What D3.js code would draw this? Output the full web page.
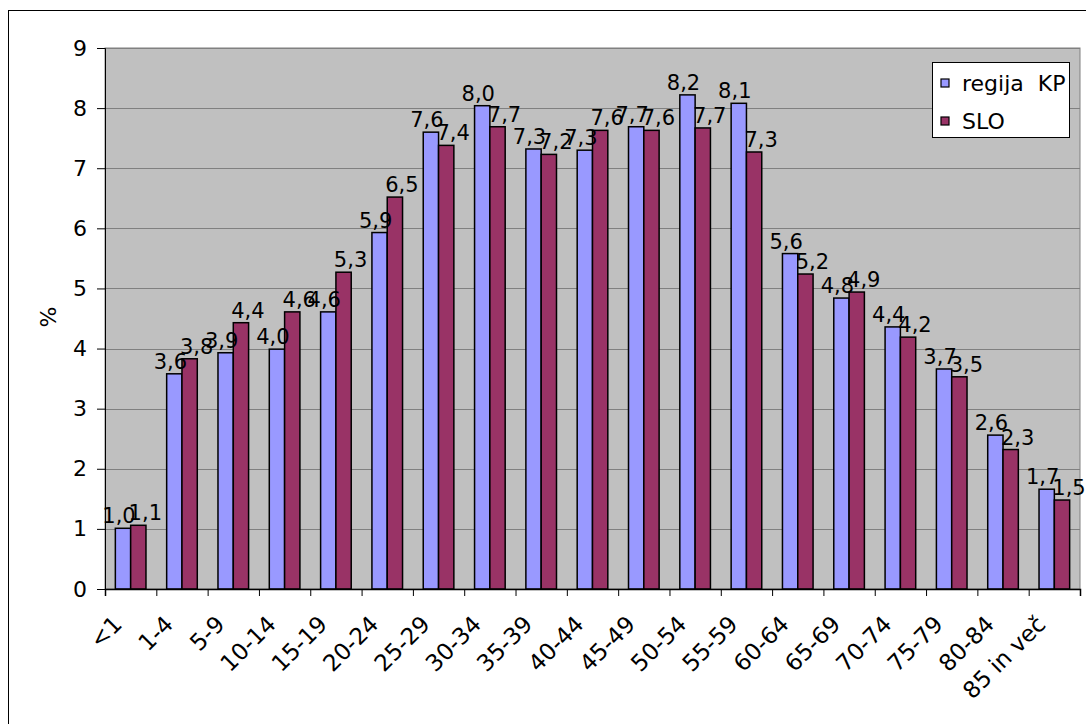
<!DOCTYPE html>
<html>
<head>
<meta charset="utf-8">
<script src="https://d3js.org/d3.v7.min.js"></script>
<style>
  body { margin: 0; background: #fff; }
  text { font-family: "DejaVu Sans", Verdana, sans-serif; font-size: 22px; fill: #000; }
  .xlab text { font-size: 23px; }
  .vlab { font-size: 21px; }
</style>
</head>
<body>
<svg id="chart" width="1086" height="724"></svg>
<script>
var categories = ["<1", "1-4", "5-9", "10-14", "15-19", "20-24", "25-29", "30-34", "35-39",
  "40-44", "45-49", "50-54", "55-59", "60-64", "65-69", "70-74", "75-79", "80-84", "85 in več"];
var seriesNames = ["regija KP", "SLO"];
var regijaKP = [1.01, 3.58, 3.93, 3.99, 4.61, 5.93, 7.60, 8.04, 7.32, 7.30, 7.69, 8.22, 8.08,
  5.58, 4.84, 4.36, 3.66, 2.56, 1.66];
var slo = [1.06, 3.83, 4.43, 4.61, 5.27, 6.52, 7.38, 7.69, 7.23, 7.63, 7.63, 7.67, 7.27,
  5.24, 4.94, 4.19, 3.53, 2.32, 1.48];
var yTicks = [0, 1, 2, 3, 4, 5, 6, 7, 8, 9];

var colors = { "regija KP": "#9999ff", "SLO": "#993366" };
var labelShift = { "regija KP": -4, "SLO": 7 };

var svg = d3.select("#chart");
var plotL = 105, plotR = 1080, plotT = 48, plotB = 589;

// chart border
svg.append("rect")
  .attr("x", 8.5).attr("y", 10.5)
  .attr("width", 1100).attr("height", 730)
  .attr("fill", "none").attr("stroke", "#000");

// plot area
svg.append("rect")
  .attr("x", plotL).attr("y", plotT)
  .attr("width", plotR - plotL).attr("height", plotB - plotT)
  .attr("fill", "#c0c0c0").attr("stroke", "#808080");

var x0 = d3.scaleBand().domain(categories).range([plotL, plotR]);
var x1 = d3.scaleBand().domain(seriesNames).range([0, x0.bandwidth()]).paddingOuter(0.676);
var y = d3.scaleLinear().domain([0, 9]).range([plotB, plotT]);
var xb = d3.scaleLinear().domain([0, categories.length]).range([plotL, plotR]);

// gridlines
svg.append("g").selectAll("line")
  .data(yTicks.filter(function(d) { return d > 0; }))
  .enter().append("line")
  .attr("x1", plotL).attr("x2", plotR)
  .attr("y1", function(d) { return Math.round(y(d)) + 0.5; })
  .attr("y2", function(d) { return Math.round(y(d)) + 0.5; })
  .attr("stroke", "#808080");

var rows = categories.map(function(c, i) {
  return { cat: c, values: [
    { name: "regija KP", value: regijaKP[i] },
    { name: "SLO", value: slo[i] }
  ] };
});

var groups = svg.append("g").selectAll("g")
  .data(rows).enter().append("g")
  .attr("transform", function(d) { return "translate(" + x0(d.cat) + ",0)"; });

groups.selectAll("rect")
  .data(function(d) { return d.values; })
  .enter().append("rect")
  .attr("x", function(d) { return x1(d.name); })
  .attr("y", function(d) { return y(d.value); })
  .attr("width", x1.bandwidth())
  .attr("height", function(d) { return plotB - y(d.value); })
  .attr("fill", function(d) { return colors[d.name]; })
  .attr("stroke", "#000").attr("stroke-width", 1.5);

var fmt = function(v) { return v.toFixed(1).replace(".", ","); };
groups.selectAll("text")
  .data(function(d) { return d.values; })
  .enter().append("text")
  .attr("class", "vlab")
  .attr("x", function(d) { return x1(d.name) + x1.bandwidth() / 2 + labelShift[d.name]; })
  .attr("y", function(d) { return y(d.value) - 5; })
  .attr("text-anchor", "middle")
  .text(function(d) { return fmt(d.value); });

// y axis
var yAxis = svg.append("g")
  .attr("transform", "translate(" + plotL + ",0)")
  .call(d3.axisLeft(y).tickValues(yTicks).tickSize(8).tickPadding(10).tickFormat(d3.format("d")));
yAxis.attr("font-size", null).attr("font-family", null);
yAxis.select(".domain").attr("stroke", "#000");
yAxis.selectAll("line").attr("stroke", "#000");

// x axis ticks at category boundaries
var xTicks = svg.append("g")
  .attr("transform", "translate(0," + plotB + ")")
  .call(d3.axisBottom(xb).ticks(categories.length).tickSize(7).tickFormat(""));
xTicks.select(".domain").attr("stroke", "#000").attr("stroke-width", 1.5);

// x labels
var xLabels = svg.append("g")
  .attr("class", "xlab")
  .attr("transform", "translate(0," + plotB + ")")
  .call(d3.axisBottom(x0).tickSize(0));
xLabels.attr("font-size", null).attr("font-family", null);
xLabels.select(".domain").remove();
xLabels.selectAll("text")
  .attr("text-anchor", "end")
  .attr("x", 0).attr("y", 0).attr("dy", "0.35em")
  .attr("transform", "translate(-13,31) rotate(-45)");

// y title
svg.append("text")
  .attr("transform", "translate(48,317) rotate(-90)")
  .attr("text-anchor", "middle").attr("dy", "0.35em")
  .text("%");

// legend
var legend = svg.append("g");
legend.append("rect")
  .attr("x", 932.5).attr("y", 62.5).attr("width", 137).attr("height", 75)
  .attr("fill", "#fff").attr("stroke", "#000");
var items = legend.selectAll("g.item").data(seriesNames).enter().append("g")
  .attr("transform", function(d, i) { return "translate(941," + (79 + i * 38) + ")"; });
items.append("rect")
  .attr("width", 8).attr("height", 8)
  .attr("fill", function(d) { return colors[d]; })
  .attr("stroke", "#000").attr("stroke-width", 1.2);
items.append("text")
  .attr("x", 21).attr("y", 4).attr("dy", "0.35em")
  .style("white-space", "pre")
  .text(function(d) { return d === "regija KP" ? "regija  KP" : d; });
</script>
</body>
</html>
